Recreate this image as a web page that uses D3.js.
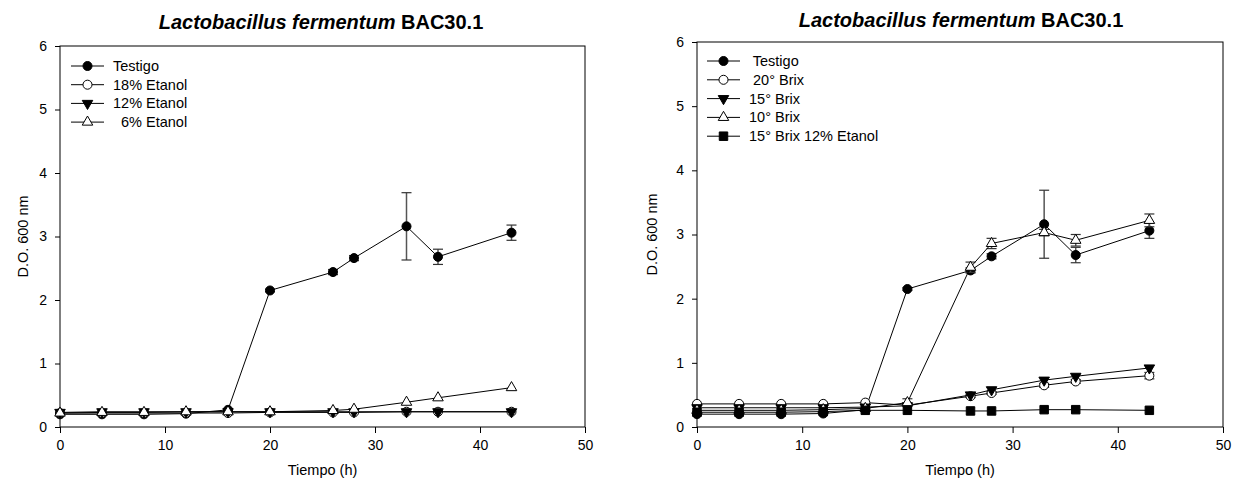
<!DOCTYPE html>
<html>
<head>
<meta charset="utf-8">
<script src="https://cdn.jsdelivr.net/npm/d3@7"></script>
<style>
  body { margin: 0; background: #fff; }
  svg { font-family: "Liberation Sans", Arial, sans-serif; }
</style>
</head>
<body>
<svg id="chart" width="1237" height="491"></svg>
<script>
// sampling times (h)
const tiempo = [0, 4, 8, 12, 16, 20, 26, 28, 33, 36, 43];
const xTicks = [0, 10, 20, 30, 40, 50];
const yTicks = [0, 1, 2, 3, 4, 5, 6];

// left panel: ethanol
const testigo = [0.20, 0.20, 0.20, 0.21, 0.27, 2.15, 2.44, 2.66, 3.16, 2.68, 3.06];
const testigoErr = [0.01, 0.01, 0.01, 0.01, 0.02, 0.02, 0.04, 0.04, 0.53, 0.12, 0.12];
const etanol18 = [0.22, 0.22, 0.22, 0.22, 0.22, 0.23, 0.23, 0.23, 0.24, 0.24, 0.24];
const etanol12 = [0.23, 0.24, 0.24, 0.24, 0.24, 0.24, 0.24, 0.24, 0.24, 0.24, 0.24];
const etanol6 = [0.22, 0.23, 0.23, 0.24, 0.24, 0.24, 0.26, 0.28, 0.39, 0.46, 0.62];

// right panel: brix
const brix20 = [0.36, 0.36, 0.36, 0.36, 0.38, 0.34, 0.48, 0.53, 0.65, 0.71, 0.80];
const brix20Err = [0, 0, 0, 0, 0, 0, 0.02, 0.02, 0.03, 0.03, 0.05];
const brix15 = [0.30, 0.30, 0.30, 0.30, 0.31, 0.33, 0.50, 0.58, 0.73, 0.79, 0.92];
const brix10 = [0.26, 0.26, 0.26, 0.27, 0.29, 0.38, 2.49, 2.86, 3.03, 2.91, 3.22];
const brix10Err = [0, 0, 0, 0, 0, 0.06, 0.08, 0.08, 0.05, 0.09, 0.10];
const brix15Et12 = [0.23, 0.23, 0.23, 0.24, 0.26, 0.26, 0.25, 0.25, 0.27, 0.27, 0.26];

const svg = d3.select("#chart");

const symbols = {
  circleFilled: { type: d3.symbolCircle, size: 64, fill: "#000", rot: 0 },
  circleOpen: { type: d3.symbolCircle, size: 64, fill: "#fff", rot: 0 },
  triDown: { type: d3.symbolTriangle, size: 48, fill: "#000", rot: 180 },
  triUp: { type: d3.symbolTriangle, size: 48, fill: "#fff", rot: 0 },
  square: { type: d3.symbolSquare, size: 72, fill: "#000", rot: 0 }
};

function drawPanel(opt) {
  const x = d3.scaleLinear().domain([0, 50]).range([opt.left, opt.right]);
  const y = d3.scaleLinear().domain([0, 6]).range([opt.bottom, opt.top]);
  const g = svg.append("g");

  // frame
  g.append("rect")
    .attr("x", opt.left).attr("y", opt.top)
    .attr("width", opt.right - opt.left).attr("height", opt.bottom - opt.top)
    .attr("fill", "none").attr("stroke", "#000").attr("stroke-width", 1);

  const xAxis = g.append("g")
    .attr("transform", "translate(0," + opt.bottom + ")")
    .call(d3.axisBottom(x).tickValues(xTicks).tickFormat(d3.format("d")).tickSize(6).tickPadding(7));
  const yAxis = g.append("g")
    .attr("transform", "translate(" + opt.left + ",0)")
    .call(d3.axisLeft(y).tickValues(yTicks).tickFormat(d3.format("d")).tickSize(5).tickPadding(8));
  [xAxis, yAxis].forEach(a => {
    a.attr("font-size", 14).attr("font-family", "Liberation Sans, Arial, sans-serif");
    a.select(".domain").remove();
    a.selectAll("text").attr("fill", "#000");
    a.selectAll("line").attr("stroke", "#000");
  });

  // title
  const t = g.append("text")
    .attr("x", opt.titleX).attr("y", opt.titleY)
    .attr("text-anchor", "middle").attr("font-size", 20).attr("font-weight", "bold");
  t.append("tspan").attr("font-style", "italic").text("Lactobacillus fermentum");
  t.append("tspan").text(" BAC30.1");

  g.append("text")
    .attr("x", (opt.left + opt.right) / 2).attr("y", 475)
    .attr("text-anchor", "middle").attr("font-size", 14.5).text("Tiempo (h)");
  g.append("text")
    .attr("transform", "translate(" + opt.yLabelX + "," + ((opt.top + opt.bottom) / 2) + ") rotate(-90)")
    .attr("text-anchor", "middle").attr("font-size", 14.5).text("D.O. 600 nm");

  const line = d3.line().x((d, i) => x(tiempo[i])).y(d => y(d));

  opt.series.forEach(s => {
    const sym = symbols[s.symbol];
    if (s.err) {
      const eg = g.append("g");
      s.values.forEach((v, i) => {
        const e = s.err[i];
        if (!e) return;
        const cx = x(tiempo[i]);
        eg.append("line").attr("x1", cx).attr("x2", cx)
          .attr("y1", y(v - e)).attr("y2", y(v + e))
          .attr("stroke", "#555").attr("stroke-width", 1.5);
        [v - e, v + e].forEach(b => {
          eg.append("line").attr("x1", cx - 5).attr("x2", cx + 5)
            .attr("y1", y(b)).attr("y2", y(b))
            .attr("stroke", "#333").attr("stroke-width", 1.2);
        });
      });
    }
    g.append("path").datum(s.values)
      .attr("fill", "none").attr("stroke", "#000").attr("stroke-width", 1)
      .attr("d", line);
    g.selectAll(null).data(s.values).enter().append("path")
      .attr("d", d3.symbol().type(sym.type).size(sym.size))
      .attr("transform", (d, i) => "translate(" + x(tiempo[i]) + "," + y(d) + ") rotate(" + sym.rot + ")")
      .attr("fill", sym.fill).attr("stroke", "#000").attr("stroke-width", 1);
  });

  // legend
  opt.series.forEach((s, i) => {
    const sym = symbols[s.symbol];
    const ly = opt.legendY + i * opt.legendStep;
    g.append("line").attr("x1", opt.legendX).attr("x2", opt.legendX + 33)
      .attr("y1", ly).attr("y2", ly).attr("stroke", "#000");
    g.append("path")
      .attr("d", d3.symbol().type(sym.type).size(sym.size))
      .attr("transform", "translate(" + (opt.legendX + 16.5) + "," + ly + ") rotate(" + sym.rot + ")")
      .attr("fill", sym.fill).attr("stroke", "#000");
    g.append("text").attr("x", opt.legendX + 42).attr("y", ly + 5)
      .attr("font-size", 14.5).attr("xml:space", "preserve")
      .style("white-space", "pre").text(s.label);
  });
}

drawPanel({
  left: 60, right: 585, top: 46, bottom: 427, titleX: 321, titleY: 29, yLabelX: 28,
  legendX: 71, legendY: 66, legendStep: 18.7,
  series: [
    { label: "Testigo", values: testigo, err: testigoErr, symbol: "circleFilled" },
    { label: "18% Etanol", values: etanol18, symbol: "circleOpen" },
    { label: "12% Etanol", values: etanol12, symbol: "triDown" },
    { label: "  6% Etanol", values: etanol6, symbol: "triUp" }
  ]
});

drawPanel({
  left: 697, right: 1223, top: 42, bottom: 427, titleX: 961, titleY: 27, yLabelX: 657,
  legendX: 707, legendY: 61, legendStep: 18.8,
  series: [
    { label: " Testigo", values: testigo, err: testigoErr, symbol: "circleFilled" },
    { label: " 20° Brix", values: brix20, err: brix20Err, symbol: "circleOpen" },
    { label: "15° Brix", values: brix15, symbol: "triDown" },
    { label: "10° Brix", values: brix10, err: brix10Err, symbol: "triUp" },
    { label: "15° Brix 12% Etanol", values: brix15Et12, symbol: "square" }
  ]
});
</script>
</body>
</html>
